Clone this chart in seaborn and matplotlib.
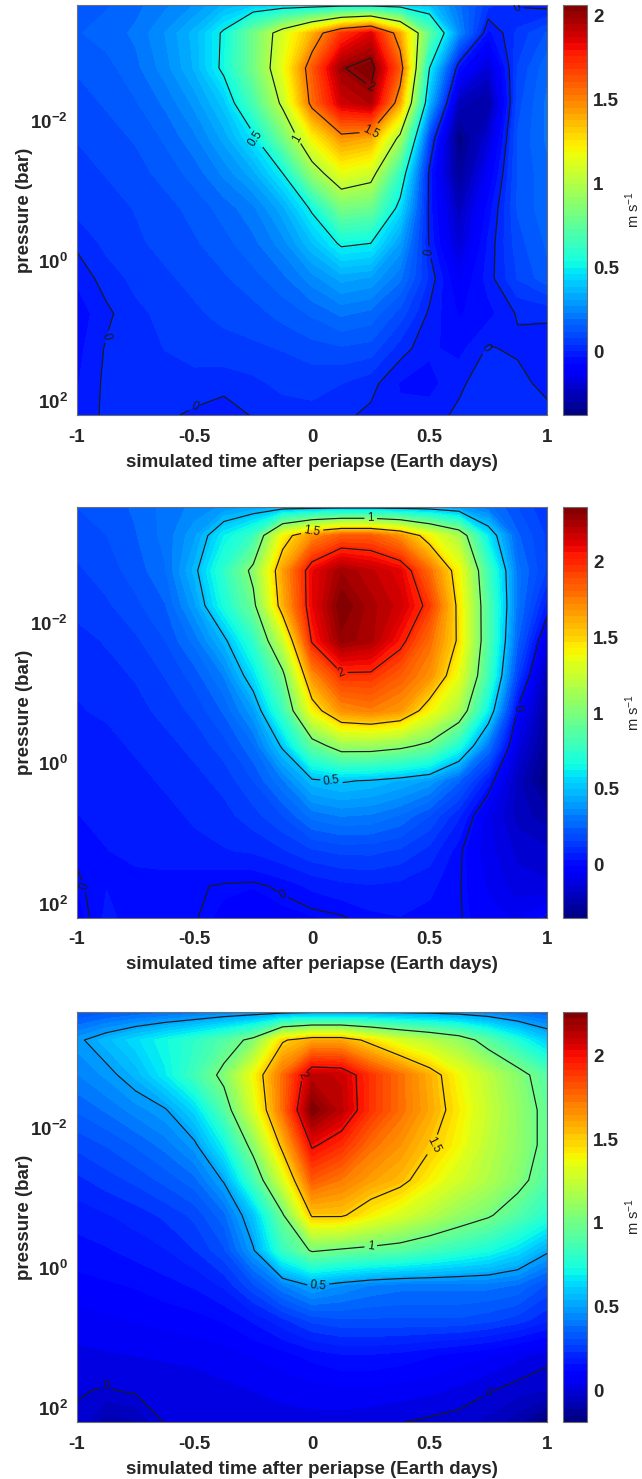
import numpy as np
import matplotlib
matplotlib.use("Agg")
import matplotlib.pyplot as plt
from matplotlib.ticker import FixedLocator, FuncFormatter, NullLocator
import seaborn as sns

# Simulation grid: time after periapse (Earth days) and log10 pressure (bar)
time_days = [-1.0, -0.875, -0.75, -0.625, -0.5, -0.375, -0.25, -0.125, 0.0,
             0.125, 0.25, 0.375, 0.5, 0.625, 0.75, 0.875, 1.0]
log10_pressure_bar = [-3.65, -3.25, -2.75, -2.25, -1.75, -1.25, -0.75, -0.25,
                      0.25, 0.75, 1.25, 1.75, 2.2]

# Wind speed (m/s), one row per pressure level, one column per time
wind_run1 = [
    [0.13, 0.15, 0.18, 0.22, 0.27, 0.35, 0.40, 0.42, 0.43, 0.45, 0.45, 0.43, 0.38, 0.20, 0.05, -0.005, -0.02],
    [0.15, 0.17, 0.20, 0.27, 0.36, 0.52, 0.80, 1.10, 1.38, 1.70, 1.85, 1.40, 0.75, 0.25, -0.05, 0.05, 0.12],
    [0.12, 0.14, 0.18, 0.25, 0.35, 0.53, 0.80, 1.15, 1.60, 1.99, 2.06, 1.60, 0.50, -0.05, -0.20, 0.08, 0.18],
    [0.10, 0.12, 0.15, 0.20, 0.28, 0.40, 0.68, 1.04, 1.55, 1.88, 1.95, 1.40, 0.35, -0.25, -0.30, 0.10, 0.20],
    [0.08, 0.10, 0.12, 0.16, 0.22, 0.32, 0.47, 0.80, 1.20, 1.45, 1.40, 0.95, 0.08, -0.37, -0.20, 0.12, 0.20],
    [0.06, 0.08, 0.10, 0.13, 0.17, 0.24, 0.33, 0.50, 0.90, 1.15, 1.08, 0.62, -0.02, -0.33, -0.12, 0.12, 0.18],
    [0.05, 0.06, 0.08, 0.10, 0.13, 0.17, 0.22, 0.33, 0.52, 0.82, 0.78, 0.45, -0.02, -0.25, -0.06, 0.12, 0.18],
    [0.01, 0.05, 0.07, 0.09, 0.11, 0.14, 0.18, 0.25, 0.38, 0.52, 0.50, 0.30, -0.01, -0.20, -0.03, 0.10, 0.16],
    [-0.03, 0.02, 0.05, 0.07, 0.09, 0.11, 0.14, 0.18, 0.25, 0.32, 0.30, 0.20, 0.03, -0.12, -0.02, 0.08, 0.14],
    [-0.06, -0.01, 0.03, 0.05, 0.07, 0.09, 0.10, 0.13, 0.16, 0.20, 0.18, 0.10, -0.01, -0.08, -0.05, 0.005, 0.008],
    [-0.05, 0.005, 0.03, 0.04, 0.05, 0.06, 0.07, 0.08, 0.10, 0.11, 0.10, 0.02, -0.03, -0.05, 0.005, -0.01, -0.02],
    [-0.04, 0.01, 0.03, 0.03, 0.03, 0.02, 0.03, 0.05, 0.05, 0.04, 0.015, -0.04, -0.05, -0.01, 0.03, 0.02, -0.02],
    [-0.03, 0.01, 0.02, 0.01, -0.01, -0.03, 0.005, 0.02, 0.03, 0.01, -0.01, -0.03, -0.02, 0.01, 0.03, 0.03, 0.02],
]

wind_run2 = [
    [0.20, 0.22, 0.25, 0.30, 0.34, 0.38, 0.42, 0.45, 0.46, 0.47, 0.47, 0.46, 0.45, 0.40, 0.30, 0.20, 0.12],
    [0.18, 0.20, 0.24, 0.30, 0.40, 0.62, 0.78, 1.40, 1.70, 1.85, 1.85, 1.70, 1.40, 1.15, 0.60, 0.25, 0.15],
    [0.15, 0.18, 0.22, 0.28, 0.47, 0.75, 1.05, 1.65, 2.10, 2.27, 2.20, 2.12, 1.80, 1.40, 0.80, 0.30, 0.15],
    [0.13, 0.15, 0.19, 0.24, 0.40, 0.68, 0.95, 1.60, 2.10, 2.36, 2.25, 2.17, 1.95, 1.45, 0.85, 0.30, 0.05],
    [0.10, 0.12, 0.15, 0.20, 0.30, 0.47, 0.75, 1.25, 2.02, 2.30, 2.25, 2.05, 1.80, 1.47, 0.85, 0.25, -0.10],
    [0.08, 0.10, 0.12, 0.16, 0.22, 0.33, 0.58, 0.95, 1.70, 1.97, 1.97, 1.85, 1.70, 1.35, 0.80, 0.15, -0.22],
    [0.07, 0.08, 0.10, 0.13, 0.17, 0.25, 0.40, 0.78, 1.40, 1.70, 1.75, 1.68, 1.40, 1.15, 0.62, -0.01, -0.27],
    [0.05, 0.06, 0.08, 0.10, 0.13, 0.18, 0.28, 0.52, 0.90, 1.10, 1.10, 1.05, 0.95, 0.70, 0.30, -0.12, -0.30],
    [0.04, 0.05, 0.06, 0.08, 0.10, 0.13, 0.20, 0.32, 0.48, 0.51, 0.49, 0.45, 0.40, 0.25, 0.05, -0.20, -0.35],
    [0.03, 0.04, 0.05, 0.06, 0.08, 0.10, 0.14, 0.20, 0.30, 0.33, 0.32, 0.28, 0.20, 0.08, -0.08, -0.20, -0.25],
    [0.01, 0.03, 0.04, 0.05, 0.06, 0.07, 0.08, 0.11, 0.15, 0.17, 0.17, 0.15, 0.10, 0.01, -0.08, -0.15, -0.17],
    [-0.01, 0.03, 0.02, 0.015, 0.005, -0.005, -0.01, 0.01, 0.04, 0.06, 0.07, 0.06, 0.04, 0.005, -0.06, -0.12, -0.13],
    [-0.03, 0.04, 0.015, 0.01, 0.003, -0.02, -0.03, -0.025, -0.015, -0.005, 0.02, 0.03, 0.02, 0.005, -0.04, -0.06, 0.005],
]

wind_run3 = [
    [0.30, 0.33, 0.35, 0.37, 0.39, 0.42, 0.44, 0.46, 0.48, 0.48, 0.48, 0.48, 0.47, 0.45, 0.42, 0.38, 0.35],
    [0.48, 0.56, 0.64, 0.72, 0.80, 0.90, 1.05, 1.48, 1.60, 1.60, 1.45, 1.30, 1.20, 1.10, 0.92, 0.75, 0.60],
    [0.42, 0.47, 0.55, 0.68, 0.85, 1.05, 1.38, 1.75, 2.12, 2.10, 1.90, 1.75, 1.58, 1.38, 1.22, 1.07, 0.90],
    [0.35, 0.39, 0.44, 0.49, 0.63, 0.90, 1.30, 1.75, 2.26, 2.12, 1.90, 1.75, 1.60, 1.42, 1.25, 1.10, 0.95],
    [0.28, 0.31, 0.35, 0.40, 0.48, 0.70, 1.07, 1.55, 2.02, 1.92, 1.75, 1.65, 1.52, 1.38, 1.22, 1.10, 0.95],
    [0.22, 0.25, 0.28, 0.32, 0.37, 0.51, 0.85, 1.30, 1.80, 1.72, 1.62, 1.55, 1.40, 1.28, 1.18, 1.06, 0.90],
    [0.17, 0.19, 0.21, 0.24, 0.28, 0.37, 0.58, 0.98, 1.52, 1.52, 1.40, 1.30, 1.20, 1.10, 1.02, 0.90, 0.78],
    [0.14, 0.15, 0.17, 0.19, 0.23, 0.30, 0.49, 0.82, 1.02, 0.98, 0.95, 0.92, 0.86, 0.80, 0.74, 0.65, 0.52],
    [0.10, 0.11, 0.12, 0.14, 0.16, 0.20, 0.30, 0.42, 0.51, 0.46, 0.42, 0.40, 0.40, 0.40, 0.40, 0.38, 0.30],
    [0.06, 0.07, 0.08, 0.09, 0.10, 0.12, 0.16, 0.22, 0.28, 0.30, 0.30, 0.30, 0.30, 0.30, 0.28, 0.25, 0.20],
    [0.03, 0.035, 0.04, 0.045, 0.05, 0.06, 0.08, 0.10, 0.13, 0.15, 0.15, 0.14, 0.12, 0.10, 0.08, 0.05, 0.02],
    [0.005, -0.005, 0.01, 0.015, 0.02, 0.03, 0.04, 0.05, 0.06, 0.07, 0.07, 0.06, 0.05, 0.03, 0.005, -0.02, -0.04],
    [-0.01, -0.10, -0.08, 0.005, 0.01, 0.015, 0.02, 0.025, 0.025, 0.02, 0.01, 0.002, -0.01, -0.02, -0.05, -0.10, -0.19],
]

colour_limits = [(-0.38, 2.06), (-0.35, 2.36), (-0.19, 2.26)]
line_levels = [0, 0.5, 1, 1.5, 2]
time_ticks = [-1, -0.5, 0, 0.5, 1]
pressure_tick_exponents = [-2, 0, 2]
colorbar_ticks = [0, 0.5, 1, 1.5, 2]

sns.set_theme(style="white")
plt.rcParams.update({
    "font.family": ["Liberation Sans", "DejaVu Sans"],
    "axes.unicode_minus": False,
    "mathtext.fontset": "custom",
    "mathtext.rm": "Liberation Sans",
    "mathtext.bf": "Liberation Sans:bold",
    "mathtext.default": "bf",
})

TEXT = "#262626"
EDGE = "#6e6e6e"
W, H = 642.0, 1479.0

fig = plt.figure(figsize=(W / 100, H / 100), dpi=100)
cmap = matplotlib.colormaps["jet"]

T, LP = np.meshgrid(time_days, log10_pressure_bar)
panel_tops = [5.0, 507.5, 1012.0]
fields = [wind_run1, wind_run2, wind_run3]

for field, (lo, hi), top in zip(fields, colour_limits, panel_tops):
    Z = np.asarray(field, dtype=float)
    bottom = 1 - (top + 410.0) / H
    height = 410.0 / H
    ax = fig.add_axes([77 / W, bottom, 470 / W, height])

    bands = np.linspace(lo, hi, 65)
    cf = ax.contourf(T, LP, Z, levels=bands, cmap=cmap, vmin=lo, vmax=hi)
    cs = ax.contour(T, LP, Z, levels=[v for v in line_levels if lo < v < hi],
                    colors="k", linewidths=0.85)
    labels = ax.clabel(cs, fmt=lambda v: f"{v:g}", fontsize=8.5, inline=True,
                       inline_spacing=3)
    for t in labels:
        t.set_fontweight("normal")

    ax.set_xlim(-1, 1)
    ax.set_ylim(log10_pressure_bar[-1], log10_pressure_bar[0])
    ax.xaxis.set_major_locator(FixedLocator(time_ticks))
    ax.xaxis.set_major_formatter(FuncFormatter(lambda v, p: f"{v:g}"))
    ax.yaxis.set_major_locator(FixedLocator(pressure_tick_exponents))
    ax.yaxis.set_major_formatter(FuncFormatter(lambda v, p: rf"$10^{{{int(round(v))}}}$"))
    ax.yaxis.set_minor_locator(NullLocator())
    ax.tick_params(axis="x", direction="in", length=4, width=0.6, color=EDGE,
                   labelsize=13.5, labelcolor=TEXT, pad=10, bottom=True)
    ax.tick_params(axis="y", direction="in", length=4, width=0.6, color=EDGE,
                   labelsize=13.5, labelcolor=TEXT, pad=6.5, left=True)
    for lab in ax.get_xticklabels():
        lab.set_fontweight("bold")
    for s in ax.spines.values():
        s.set_color(EDGE)
        s.set_linewidth(0.8)
    ax.set_xlabel("simulated time after periapse (Earth days)", fontsize=13.5,
                  fontweight="bold", color=TEXT, labelpad=5.5)
    ax.set_ylabel("pressure (bar)", fontsize=13.5, fontweight="bold",
                  color=TEXT, labelpad=-2)

    cax = fig.add_axes([563 / W, bottom, 24 / W, height])
    cb = fig.colorbar(cf, cax=cax, ticks=colorbar_ticks)
    cb.outline.set_edgecolor(EDGE)
    cb.outline.set_linewidth(0.8)
    cax.yaxis.set_major_formatter(FuncFormatter(lambda v, p: f"{v:g}"))
    cax.tick_params(direction="in", length=4, width=0.6, color=EDGE,
                    labelsize=13.5, labelcolor=TEXT, pad=4.5)
    for lab in cax.get_yticklabels():
        lab.set_fontweight("bold")
    cb.set_label(r"m s$^{\mathrm{-1}}$", fontsize=10.5, fontweight="normal",
                 color=TEXT, labelpad=3)

fig.savefig("out.png", dpi=100, facecolor="white")
